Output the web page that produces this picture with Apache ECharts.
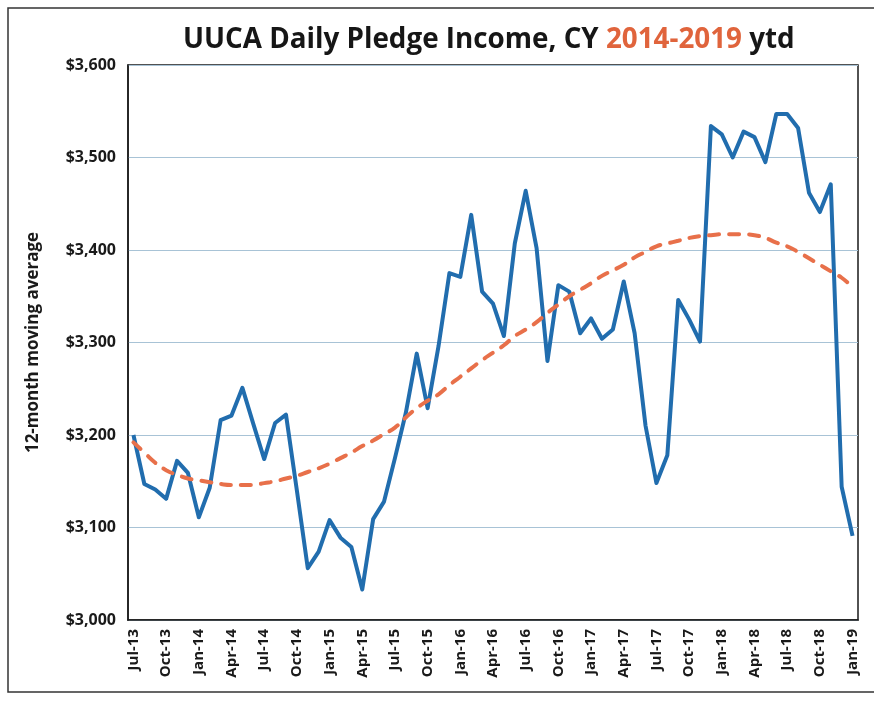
<!DOCTYPE html>
<html>
<head>
<meta charset="utf-8">
<script src="https://cdn.jsdelivr.net/npm/echarts@6/dist/echarts.min.js"></script>
<style>
html,body{margin:0;padding:0;background:#fff;}
#chart{width:874px;height:702px;}
</style>
</head>
<body>
<div id="chart"></div>
<script>
var months=['Jul-13','Aug-13','Sep-13','Oct-13','Nov-13','Dec-13','Jan-14','Feb-14','Mar-14','Apr-14','May-14','Jun-14',
	'Jul-14','Aug-14','Sep-14','Oct-14','Nov-14','Dec-14','Jan-15','Feb-15','Mar-15','Apr-15','May-15','Jun-15',
	'Jul-15','Aug-15','Sep-15','Oct-15','Nov-15','Dec-15','Jan-16','Feb-16','Mar-16','Apr-16','May-16','Jun-16',
	'Jul-16','Aug-16','Sep-16','Oct-16','Nov-16','Dec-16','Jan-17','Feb-17','Mar-17','Apr-17','May-17','Jun-17',
	'Jul-17','Aug-17','Sep-17','Oct-17','Nov-17','Dec-17','Jan-18','Feb-18','Mar-18','Apr-18','May-18','Jun-18',
	'Jul-18','Aug-18','Sep-18','Oct-18','Nov-18','Dec-18','Jan-19'];
// 12-month moving average
var pledge=[3200,3147,3141,3131,3172,3159,3111,3143,3216,3221,3251,3212,
	3174,3213,3222,3140,3056,3074,3108,3089,3079,3033,3109,3128,
	3175,3224,3288,3229,3296,3375,3371,3438,3355,3342,3307,3407,
	3464,3402,3280,3362,3355,3310,3326,3304,3314,3366,3310,3210,
	3148,3178,3346,3325,3301,3534,3525,3500,3528,3522,3495,3547,
	3547,3532,3462,3441,3471,3144,3091];
// dashed trend line
var trend=[3192,3181,3170,3162,3157,3153,3151,3149,3147,3146,3146,3146,
	3148,3150,3153,3156,3160,3164,3169,3175,3181,3188,3194,3201,
	3208,3219,3229,3237,3244,3254,3263,3272,3281,3289,3297,3307,
	3314,3322,3332,3341,3350,3357,3364,3372,3378,3384,3392,3398,
	3404,3407,3410,3413,3415,3416,3417,3417,3417,3416,3413,3408,
	3404,3398,3391,3384,3377,3370,3360];
var yMin=3000, yMax=3600, yStep=100;

var chart=echarts.init(document.getElementById('chart'));
var font='"Open Sans", "Noto Sans", sans-serif';
chart.setOption({
	backgroundColor:'#fff',
	animation:false,
	title:{
		text:'{a|UUCA Daily Pledge Income, CY }{b|2014-2019}{a| ytd}',
		left:178,
		top:21,
		textStyle:{
			rich:{
				a:{fontFamily:font,fontSize:27.8,fontWeight:'bold',color:'#161616'},
				b:{fontFamily:font,fontSize:27.8,fontWeight:'bold',color:'#e0643c'}
			}
		}
	},
	graphic:[{
		type:'rect',
		shape:{x:8,y:8,width:900,height:684},
		style:{fill:'none',stroke:'#333',lineWidth:1.5},
		silent:true
	}],
	grid:{left:128,right:16,top:65,bottom:82,show:true,borderColor:'#1a1a1a',borderWidth:1.5},
	xAxis:{
		type:'category',
		data:months,
		boundaryGap:true,
		axisLine:{lineStyle:{color:'#1a1a1a',width:1.5}},
		axisTick:{interval:2,length:5,lineStyle:{color:'#1a1a1a'}},
		axisLabel:{interval:2,rotate:90,fontFamily:font,fontSize:15,fontWeight:'bold',color:'#1a1a1a',margin:9}
	},
	yAxis:{
		type:'value',
		min:yMin,max:yMax,interval:yStep,
		name:'12-month moving average',
		nameLocation:'middle',
		nameGap:86,
		nameTextStyle:{fontFamily:font,fontSize:17,fontWeight:'bold',color:'#1a1a1a'},
		axisLine:{show:true,lineStyle:{color:'#1a1a1a',width:1.5}},
		axisTick:{show:false},
		axisLabel:{
			fontFamily:font,fontSize:16,fontWeight:'bold',color:'#1a1a1a',margin:12,
			formatter:function(v){return '$'+v.toLocaleString('en-US');}
		},
		splitLine:{lineStyle:{color:'#a8c3d6',width:1}}
	},
	series:[{
		name:'Pledge',
		type:'line',
		data:pledge,
		symbol:'none',
		lineStyle:{color:'#216dae',width:4,join:'round'},
		z:2
	},{
		name:'Trend',
		type:'line',
		data:trend,
		symbol:'none',
		smooth:true,
		lineStyle:{color:'#e8704a',width:4,type:[10,10],cap:'round'},
		z:3
	}]
});
</script>
</body>
</html>
